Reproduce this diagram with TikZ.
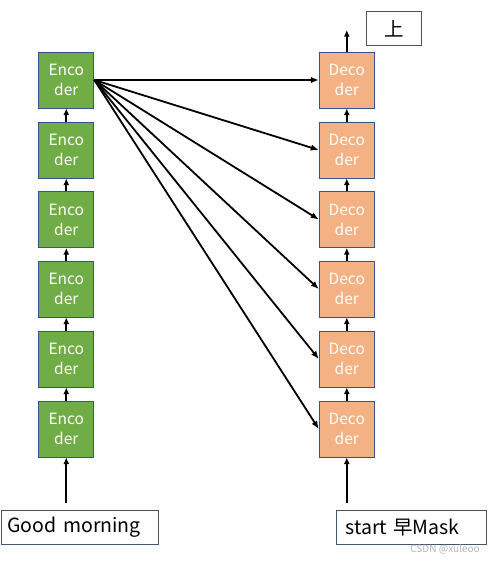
\documentclass[tikz,border=0pt]{standalone}
\usepackage{fontspec}
\setmainfont{Noto Sans CJK SC}
\usetikzlibrary{arrows.meta}
\definecolor{encg}{HTML}{70AD47}
\definecolor{deco}{HTML}{F4B183}
\definecolor{bord}{HTML}{2F5597}
\definecolor{lbord}{HTML}{44546A}
\tikzset{
  blk/.style={draw=bord, line width=1pt, minimum width=55pt, minimum height=56pt, inner sep=0pt, align=center, text=white, font=\fontsize{15.5pt}{20pt}\selectfont},
  encbox/.style={blk, fill=encg},
  decbox/.style={blk, fill=deco},
  lbl/.style={draw=lbord, line width=1pt, inner ysep=0pt, minimum height=34pt, align=left, font=\fontsize{19.5pt}{22pt}\selectfont},
  arr/.style={-{Latex[length=6.5pt,width=6pt]}, line width=2pt},
  darr/.style={-{Latex[length=8pt,width=6.5pt]}, line width=1.8pt}
}
\begin{document}
\begin{tikzpicture}[x=1pt,y=-1pt]
\useasboundingbox (0,0) rectangle (494,563);
\foreach \i/\yy in {1/80,2/150,3/219.5,4/289,5/359,6/429}{
  \node[encbox] (e\i) at (66.3,\yy) {Enco\\der};
  \node[decbox] (d\i) at (346.8,\yy) {Deco\\der};
}
\foreach \a/\b in {2/1,3/2,4/3,5/4,6/5}{
  \draw[arr] (e\a.north) -- (e\b.south);
  \draw[arr] (d\a.north) -- (d\b.south);
}
\foreach \i in {1,...,6}{
  \draw[darr] (e1.east) -- (d\i.west);
}
\coordinate (top) at (346.8,30);
\draw[arr] (d1.north) -- (top);
\node[lbl, anchor=north west, minimum width=55pt, inner xsep=9pt, minimum height=34pt] (out) at (366.3,11.3) {上\hfill};
\node[lbl, anchor=west, text width=145pt, inner xsep=6pt] (gm) at (1,527.3) {\raisebox{-1pt}{Good morning}};
\node[lbl, anchor=west, text width=132pt, inner xsep=9pt] (st) at (336,527.3) {\raisebox{-1pt}{start 早Mask}};
\coordinate (gmtop) at (66.3,503);
\coordinate (sttop) at (346.8,503);
\draw[arr] (gmtop) -- (e6.south);
\draw[arr] (sttop) -- (d6.south);
\node[text=gray!60, font=\fontsize{10pt}{11pt}\selectfont, anchor=east, inner sep=0pt] (wm) at (480,549) {CSDN @xuleoo};
\end{tikzpicture}
\end{document}
